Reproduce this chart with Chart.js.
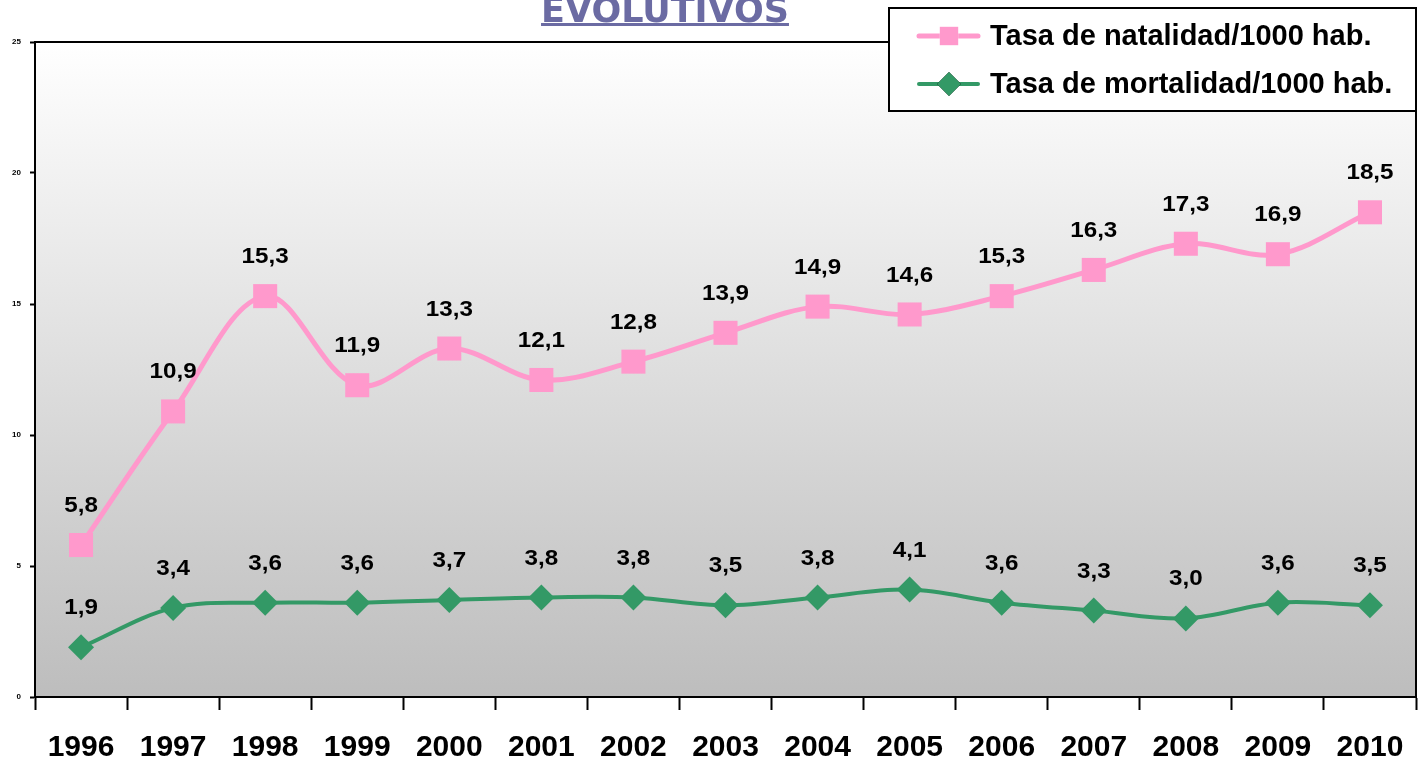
<!DOCTYPE html>
<html>
<head>
<meta charset="utf-8">
<script src="https://cdn.jsdelivr.net/npm/chart.js@4/dist/chart.umd.min.js"></script>
<style>
  body { margin: 0; background: #fff; }
  canvas { display: block; }
</style>
</head>
<body>
<canvas id="chart" width="1418" height="762"></canvas>
<script>
const years = ['1996', '1997', '1998', '1999', '2000', '2001', '2002', '2003', '2004', '2005', '2006', '2007', '2008', '2009', '2010'];
const natalidad = [5.8, 10.9, 15.3, 11.9, 13.3, 12.1, 12.8, 13.9, 14.9, 14.6, 15.3, 16.3, 17.3, 16.9, 18.5];
const mortalidad = [1.9, 3.4, 3.6, 3.6, 3.7, 3.8, 3.8, 3.5, 3.8, 4.1, 3.6, 3.3, 3.0, 3.6, 3.5];
const yTicks = [0, 5, 10, 15, 20, 25];

const titleText = 'EVOLUTIVOS';

// gradient behind the plot + frame on top/right
const plotBackground = {
    id: 'plotBackground',
    beforeDraw(chart) {
        const { ctx, chartArea: a } = chart;
        const g = ctx.createLinearGradient(0, a.top, 0, a.bottom);
        g.addColorStop(0, '#ffffff');
        g.addColorStop(1, '#bdbdbd');
        ctx.save();
        ctx.fillStyle = g;
        ctx.fillRect(a.left, a.top, a.right - a.left, a.bottom - a.top);
        ctx.restore();
    },
    afterDraw(chart) {
        const { ctx, chartArea: a } = chart;
        ctx.save();
        ctx.strokeStyle = '#000';
        ctx.lineWidth = 2;
        ctx.beginPath();
        ctx.moveTo(a.left, a.top);
        ctx.lineTo(a.right, a.top);
        ctx.lineTo(a.right, a.bottom);
        ctx.stroke();
        ctx.restore();
    }
};

// value labels above each point, comma decimals
const pointLabels = {
    id: 'pointLabels',
    afterDatasetsDraw(chart) {
        const { ctx } = chart;
        ctx.save();
        ctx.font = 'bold 22px "Liberation Sans", Arial, sans-serif';
        ctx.fillStyle = '#000';
        ctx.textAlign = 'center';
        ctx.textBaseline = 'middle';
        chart.data.datasets.forEach((ds, i) => {
            chart.getDatasetMeta(i).data.forEach((pt, j) => {
                const txt = ds.data[j].toFixed(1).replace('.', ',');
                ctx.save();
                ctx.translate(pt.x, pt.y - 39);
                ctx.scale(1.1, 1);
                ctx.fillText(txt, 0, 0);
                ctx.restore();
            });
        });
        ctx.restore();
    }
};

// title (cut at top) and boxed legend
const decorations = {
    id: 'decorations',
    afterDraw(chart) {
        const { ctx } = chart;
        ctx.save();
        ctx.font = 'bold 35px "DejaVu Sans", Verdana, sans-serif';
        ctx.fillStyle = '#6b6ba3';
        ctx.textAlign = 'center';
        ctx.textBaseline = 'alphabetic';
        const cx = 665;
        ctx.fillText(titleText, cx, 22);
        const w = ctx.measureText(titleText).width;
        ctx.fillRect(cx - w / 2, 23, w, 3);

        // legend box
        ctx.fillStyle = '#fff';
        ctx.fillRect(889, 8, 527, 103);
        ctx.strokeStyle = '#000';
        ctx.lineWidth = 2;
        ctx.strokeRect(889, 8, 527, 103);

        const rows = [36, 84];
        chart.data.datasets.forEach((ds, i) => {
            const y = rows[i];
            ctx.strokeStyle = ds.borderColor;
            ctx.lineWidth = ds.borderWidth;
            ctx.lineCap = 'round';
            ctx.beginPath();
            ctx.moveTo(919, y);
            ctx.lineTo(978, y);
            ctx.stroke();
            Chart.helpers.drawPoint(ctx, {
                pointStyle: ds.pointStyle,
                radius: ds.legendRadius,
                borderWidth: 0
            }, 949, y);
            ctx.fillStyle = ds.pointBackgroundColor;
            ctx.fill();
            ctx.fillStyle = '#000';
            ctx.font = 'bold 29px "Liberation Sans", Arial, sans-serif';
            ctx.textAlign = 'left';
            ctx.textBaseline = 'middle';
            ctx.fillText(ds.label, 990, y + 1);
        });
        ctx.restore();
    }
};

new Chart(document.getElementById('chart'), {
    type: 'line',
    data: {
        labels: years,
        datasets: [
            {
                label: 'Tasa de natalidad/1000 hab.',
                data: natalidad,
                borderColor: '#ff99cc',
                backgroundColor: '#ff99cc',
                pointBackgroundColor: '#ff99cc',
                pointBorderWidth: 0,
                borderWidth: 5,
                pointStyle: 'rect',
                pointRadius: 17,
                legendRadius: 13,
                tension: 0.35
            },
            {
                label: 'Tasa de mortalidad/1000 hab.',
                data: mortalidad,
                borderColor: '#339966',
                backgroundColor: '#339966',
                pointBackgroundColor: '#339966',
                pointBorderWidth: 0,
                borderWidth: 4,
                pointStyle: 'rectRot',
                pointRadius: 13,
                legendRadius: 12,
                tension: 0.35
            }
        ]
    },
    options: {
        responsive: false,
        animation: false,
        devicePixelRatio: 1,
        layout: { autoPadding: false, padding: { top: 42, right: 2, left: 0, bottom: 0 } },
        plugins: {
            legend: { display: false },
            title: { display: false },
            tooltip: { enabled: false }
        },
        scales: {
            x: {
                offset: true,
                grid: {
                    offset: true,
                    drawOnChartArea: false,
                    tickLength: 13,
                    tickColor: '#000',
                    tickWidth: 2
                },
                border: { color: '#000', width: 2 },
                ticks: {
                    color: '#000',
                    font: { family: '"Liberation Sans", Arial, sans-serif', weight: 'bold', size: 30 },
                    padding: 20,
                    maxRotation: 0,
                    autoSkip: false
                },
                afterFit(s) {
                    s.height = 65;
                    s.paddingLeft = 0;
                    s.paddingRight = 0;
                }
            },
            y: {
                min: yTicks[0],
                max: yTicks[yTicks.length - 1],
                afterBuildTicks(s) { s.ticks = yTicks.map(v => ({ value: v })); },
                grid: {
                    drawOnChartArea: false,
                    tickLength: 5,
                    tickColor: '#000',
                    tickWidth: 2
                },
                border: { color: '#000', width: 2 },
                ticks: {
                    color: '#000',
                    font: { family: '"Liberation Sans", Arial, sans-serif', weight: 'bold', size: 8 },
                    padding: 9
                },
                afterFit(s) {
                    s.width = 35;
                    s.paddingTop = 0;
                    s.paddingBottom = 0;
                }
            }
        }
    },
    plugins: [plotBackground, pointLabels, decorations]
});
</script>
</body>
</html>
